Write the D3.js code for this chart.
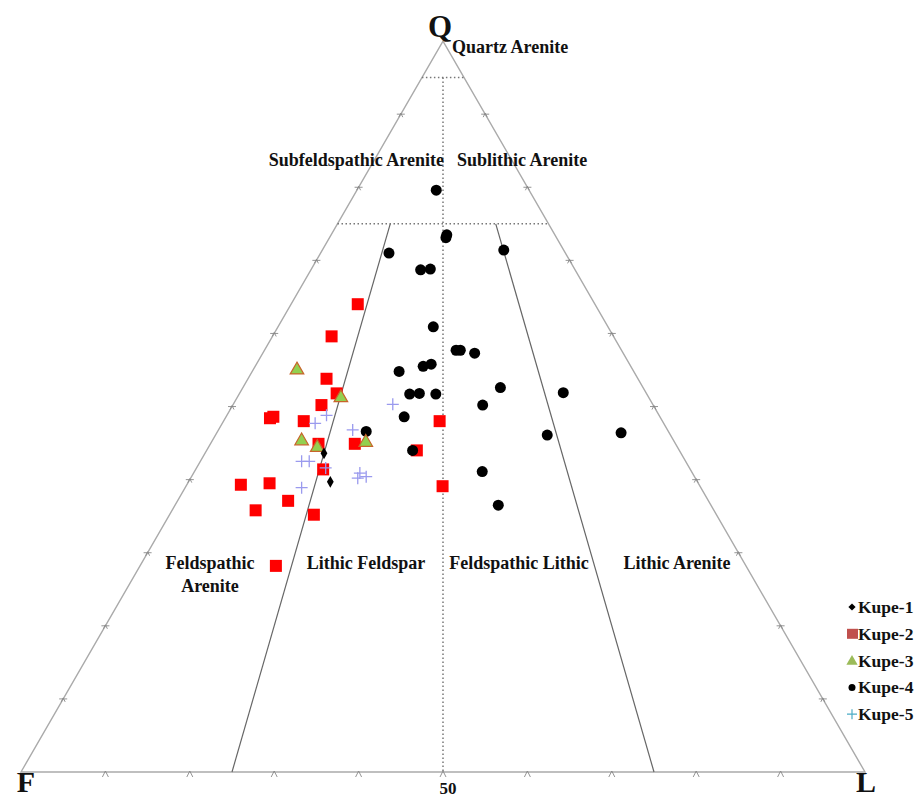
<!DOCTYPE html>
<html>
<head>
<meta charset="utf-8">
<script src="https://cdn.jsdelivr.net/npm/d3@7"></script>
<style>
  body { margin: 0; background: #fff; }
  svg text { font-family: "Liberation Serif", "Times New Roman", serif; font-weight: bold; fill: #111; }
</style>
</head>
<body>
<div id="chart"></div>
<script>
// QFL samples, [Q, F, L] in percent
var kupe1 = [[43.6, 42.3, 14.1], [39.7, 43.5, 16.8]];
var kupe2 = [
  [64.0, 28.1, 7.9], [59.6, 33.4, 7.0], [53.8, 36.9, 9.3], [51.8, 36.7, 11.5],
  [50.2, 39.3, 10.5], [48.4, 46.3, 5.3], [48.6, 45.8, 5.6], [48.0, 42.5, 9.5],
  [44.9, 42.3, 12.8], [44.9, 38.0, 17.1], [41.4, 43.5, 15.1], [39.3, 54.3, 6.4],
  [39.5, 50.8, 9.7], [37.1, 49.8, 13.1], [35.8, 54.3, 9.9], [35.2, 47.7, 17.1],
  [44.0, 31.1, 24.9], [48.0, 26.4, 25.6], [39.1, 30.5, 30.4], [28.2, 55.7, 16.1]
];
var kupe3 = [[55.0, 39.8, 5.2], [51.2, 36.5, 12.3], [45.3, 44.1, 10.6], [44.4, 42.7, 12.9], [45.1, 36.6, 18.3]];
var kupe4 = [
  [79.6, 11.0, 9.4], [73.5, 12.8, 13.7], [73.1, 13.1, 13.8], [71.0, 20.9, 8.1],
  [71.4, 7.1, 21.5], [68.7, 18.3, 13.0], [68.8, 17.1, 14.1], [60.9, 20.7, 18.4],
  [57.7, 19.6, 22.7], [57.7, 19.1, 23.2], [57.3, 17.6, 25.1], [55.5, 24.6, 19.9],
  [55.8, 23.5, 20.7], [54.8, 27.8, 17.4], [51.7, 28.1, 20.2], [51.8, 26.9, 21.3],
  [51.7, 25.0, 23.3], [52.6, 16.9, 30.5], [51.9, 9.8, 38.3], [50.2, 20.2, 29.6],
  [48.6, 30.3, 21.1], [46.6, 35.8, 17.6], [46.1, 14.6, 39.3], [46.4, 5.7, 47.9],
  [44.0, 31.6, 24.4], [41.1, 24.8, 34.1], [36.5, 25.2, 38.3]
];
var kupe5 = [
  [47.7, 41.3, 11.0], [48.8, 39.4, 11.8], [46.8, 37.3, 15.9], [42.5, 45.5, 12.0],
  [42.5, 44.6, 12.9], [41.6, 43.1, 15.3], [40.9, 39.4, 19.7], [40.2, 40.0, 19.8],
  [40.4, 38.9, 20.7], [38.9, 47.3, 13.8], [50.3, 30.8, 18.9]
];

var seriesNames = ["Kupe-1", "Kupe-2", "Kupe-3", "Kupe-4", "Kupe-5"];
var legendColors = ["#000", "#c0504d", "#9bbb59", "#000", "#4bacc6"];

var width = 917, height = 799;
var xF = 21, xL = 865, yBase = 772;
var side = xL - xF;

var svg = d3.select("#chart").append("svg")
    .attr("width", width)
    .attr("height", height);

// base runs F(0) -> L(100), height runs Q 0 -> 100
var xs = d3.scaleLinear().domain([0, 100]).range([xF, xL]);
var ys = d3.scaleLinear().domain([0, 100]).range([yBase, yBase - side * Math.sqrt(3) / 2]);

function pt(q, f, l) {
  var s = q + f + l;
  q = q / s * 100; l = l / s * 100;
  return [xs(l + q / 2), ys(q)];
}

var line = d3.line();

// outer triangle
svg.append("path")
    .attr("d", line([pt(0, 100, 0), pt(100, 0, 0), pt(0, 0, 100)]) + "Z")
    .attr("fill", "none")
    .attr("stroke", "#aaa")
    .attr("stroke-width", 1.4);

// tick marks every 10%
var baseTicks = [], sideTicks = [];
for (var i = 1; i < 10; i++) {
  baseTicks.push(pt(0, 100 - i * 10, i * 10));
  sideTicks.push(pt(i * 10, 100 - i * 10, 0));
  sideTicks.push(pt(i * 10, 0, 100 - i * 10));
}
svg.append("g").selectAll("path")
    .data(baseTicks)
    .enter().append("path")
    .attr("d", function (d) {
      return "M" + (d[0] - 3) + "," + (d[1] + 5) + "L" + d[0] + "," + (d[1] - 1) + "L" + (d[0] + 3) + "," + (d[1] + 5);
    })
    .attr("fill", "none")
    .attr("stroke", "#888")
    .attr("stroke-width", 0.9);
svg.append("g").selectAll("path")
    .data(sideTicks)
    .enter().append("path")
    .attr("d", function (d) {
      return "M" + (d[0] - 4) + "," + d[1] + "H" + (d[0] + 4) +
             "M" + (d[0] - 2) + "," + (d[1] + 3) + "L" + d[0] + "," + (d[1] - 1) + "L" + (d[0] + 2) + "," + (d[1] + 3);
    })
    .attr("fill", "none")
    .attr("stroke", "#888")
    .attr("stroke-width", 0.9);

// field boundaries
var dotted = [
  [pt(95, 5, 0), pt(95, 0, 5)],
  [pt(75, 25, 0), pt(75, 0, 25)],
  [pt(95, 2.5, 2.5), pt(0, 50, 50)]
];
var solid = [
  [pt(75, 18.75, 6.25), pt(0, 75, 25)],
  [pt(75, 6.25, 18.75), pt(0, 25, 75)]
];
svg.append("g").selectAll("path")
    .data(dotted)
    .enter().append("path")
    .attr("d", line)
    .attr("stroke", "#777")
    .attr("stroke-width", 1.5)
    .attr("stroke-dasharray", "1.5,2.5");
svg.append("g").selectAll("path")
    .data(solid)
    .enter().append("path")
    .attr("d", line)
    .attr("stroke", "#666")
    .attr("stroke-width", 1.2);

// labels
var labels = [
  {t: "Q", x: 440, y: 37, s: 31, a: "middle"},
  {t: "F", x: 26, y: 792, s: 30, a: "middle"},
  {t: "L", x: 866, y: 792, s: 30, a: "middle"},
  {t: "50", x: 448, y: 794, s: 17, a: "middle"},
  {t: "Quartz Arenite", x: 452, y: 53, s: 18, a: "start"},
  {t: "Subfeldspathic Arenite", x: 444, y: 166, s: 18, a: "end"},
  {t: "Sublithic Arenite", x: 457, y: 166, s: 18, a: "start"},
  {t: "Feldspathic", x: 210, y: 569, s: 18, a: "middle"},
  {t: "Arenite", x: 210, y: 592, s: 18, a: "middle"},
  {t: "Lithic Feldspar", x: 366, y: 569, s: 18, a: "middle"},
  {t: "Feldspathic Lithic", x: 519, y: 569, s: 18, a: "middle"},
  {t: "Lithic Arenite", x: 677, y: 569, s: 18, a: "middle"}
];
svg.append("g").selectAll("text")
    .data(labels)
    .enter().append("text")
    .attr("x", function (d) { return d.x; })
    .attr("y", function (d) { return d.y; })
    .attr("font-size", function (d) { return d.s + "px"; })
    .attr("text-anchor", function (d) { return d.a; })
    .text(function (d) { return d.t; });

// points
function plotSeries(data, draw) {
  var g = svg.append("g");
  data.forEach(function (d) {
    var p = pt(d[0], d[1], d[2]);
    draw(g, p[0], p[1]);
  });
}

var drawSquare = function (g, x, y) {
  g.append("rect").attr("x", x - 6).attr("y", y - 6).attr("width", 12).attr("height", 12)
      .attr("fill", "#ff0000");
};
var drawCircle = function (g, x, y) {
  g.append("circle").attr("cx", x).attr("cy", y).attr("r", 5.5).attr("fill", "#000");
};
var drawTriangle = function (g, x, y) {
  g.append("path").attr("d", d3.symbol(d3.symbolTriangle, 80)())
      .attr("transform", "translate(" + x + "," + y + ")")
      .attr("fill", "#92d050").attr("stroke", "#c8642a").attr("stroke-width", 1.2);
};
var drawPlus = function (g, x, y) {
  g.append("path").attr("d", "M" + (x - 6) + "," + y + "H" + (x + 6) + "M" + x + "," + (y - 6) + "V" + (y + 6))
      .attr("stroke", "#9a9aee").attr("stroke-width", 1.3);
};
var drawDiamond = function (g, x, y) {
  g.append("path").attr("d", d3.symbol(d3.symbolDiamond, 40)())
      .attr("transform", "translate(" + x + "," + y + ")")
      .attr("fill", "#000");
};

plotSeries(kupe2, drawSquare);
plotSeries(kupe4, drawCircle);
plotSeries(kupe3, drawTriangle);
plotSeries(kupe5, drawPlus);
plotSeries(kupe1, drawDiamond);

// legend
var legend = svg.append("g").selectAll("g")
    .data(seriesNames)
    .enter().append("g")
    .attr("transform", function (d, i) { return "translate(852," + (607 + i * 26.8) + ")"; });

legend.each(function (d, i) {
  var g = d3.select(this);
  var c = legendColors[i];
  if (i === 0) g.append("path").attr("d", d3.symbol(d3.symbolSquare, 26)()).attr("transform", "rotate(45)").attr("fill", c);
  if (i === 1) g.append("rect").attr("x", -5).attr("y", -5).attr("width", 11).attr("height", 10).attr("fill", c);
  if (i === 2) g.append("path").attr("d", d3.symbol(d3.symbolTriangle, 55)()).attr("transform", "translate(0,1)").attr("fill", c);
  if (i === 3) g.append("circle").attr("r", 3.5).attr("fill", c);
  if (i === 4) g.append("path").attr("d", "M-5,0H5M0,-5V5").attr("stroke", c).attr("stroke-width", 1.2);
  g.append("text").attr("x", 6).attr("y", 6).attr("font-size", "17.5px").text(d);
});
</script>
</body>
</html>
